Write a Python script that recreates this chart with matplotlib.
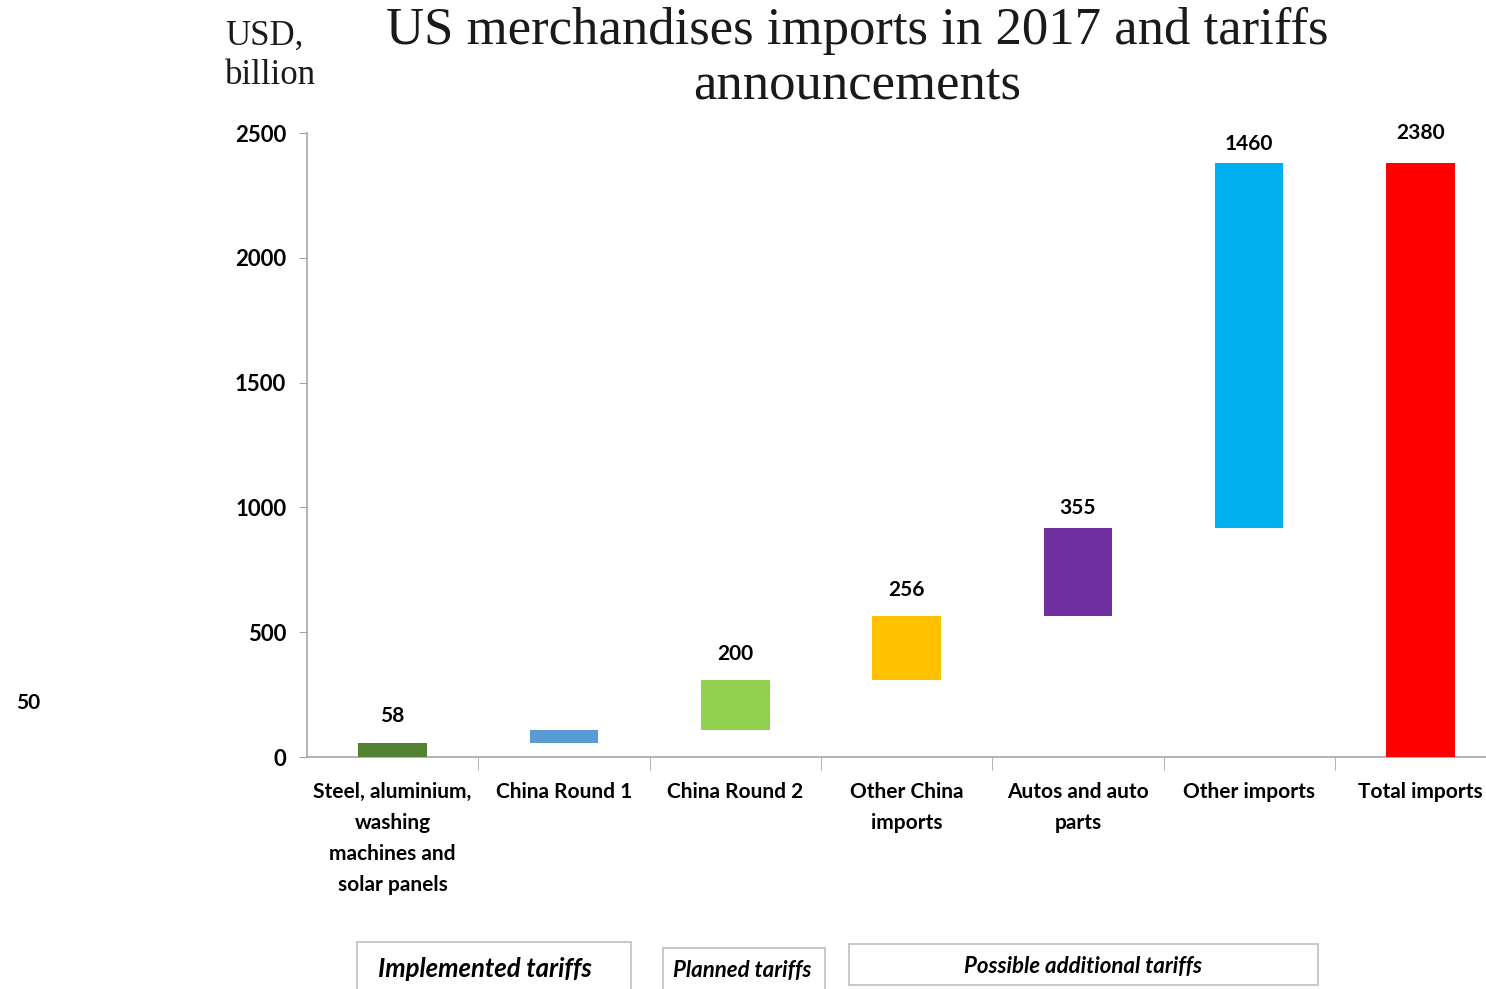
import matplotlib.pyplot as plt
from matplotlib.patches import Rectangle
import numpy as np

# data
categories = ["Steel, aluminium,\nwashing\nmachines and\nsolar panels", "China Round 1",
              "China Round 2", "Other China\nimports", "Autos and auto\nparts",
              "Other imports", "Total imports"]
steps = [58, 50, 200, 256, 355, 1460]
total = 2380
colors = ["#548235", "#5B9BD5", "#92D050", "#FFC000", "#7030A0", "#00B0F0", "#FF0000"]
yticks = [0, 500, 1000, 1500, 2000, 2500]
groups = ["Implemented tariffs", "Planned tariffs", "Possible additional tariffs"]

sans = "Lato"
serif = "Liberation Serif"

bottoms = list(np.concatenate([[0], np.cumsum(steps)[:-1]])) + [0]
heights = steps + [total]

fig = plt.figure(figsize=(14.86, 9.89), dpi=100)
W, H = 1486, 989
ax = fig.add_axes([307 / W, 1 - 757 / H, (1486 - 307) / W, (757 - 133) / H])

x = np.arange(len(categories))
ax.bar(x, heights, bottom=bottoms, width=0.40, color=colors, zorder=3)

ax.set_ylim(0, 2500)
ax.set_xlim(-0.5, -0.5 + (1486 - 307) / 171.3)
ax.set_yticks(yticks)
ax.set_yticklabels([str(v) for v in yticks], fontfamily=sans, fontweight="bold", fontsize=16)

ax.set_xticks(x)
ax.set_xticklabels(categories, fontfamily=sans, fontweight="bold", fontsize=15,
                   linespacing=1.68, va="top")
ax.tick_params(axis="x", length=0, pad=18)
ax.set_xticks(np.arange(len(categories) - 1) + 0.5, minor=True)
ax.tick_params(axis="x", which="minor", length=9, color="#A6A6A6", direction="out")
ax.tick_params(axis="y", length=6, color="#A6A6A6", direction="out", pad=9)

for s in ["top", "right"]:
    ax.spines[s].set_visible(False)
for s in ["left", "bottom"]:
    ax.spines[s].set_color("#A6A6A6")
    ax.spines[s].set_linewidth(1.2)

# data labels (China Round 1 label sits stray at the far left, as in the source)
label_gap = [27, 0, 26, 26, 20, 19, 30]  # pixels above bar top
for i, (b, h) in enumerate(zip(bottoms, heights)):
    if i == 1:
        continue
    ax.annotate(str(h), (x[i], b + h), xytext=(0, label_gap[i] * 0.72),
                textcoords="offset points", ha="center", va="center",
                fontfamily=sans, fontweight="bold", fontsize=15)
fig.text(28 / W, 1 - 703 / H, str(steps[1]), ha="center", va="center",
         fontfamily=sans, fontweight="bold", fontsize=15)

# titles
fig.text(857 / W, 1 - 58 / H, "US merchandises imports in 2017 and tariffs\nannouncements",
         ha="center", va="center", fontfamily=serif, fontsize=38, linespacing=1.17,
         color="#1a1a1a")
fig.text(225 / W, 1 - 56 / H, "USD,\nbillion", ha="left", va="center",
         fontfamily=serif, fontsize=25, linespacing=1.25, color="#1a1a1a")

# group boxes
boxes = [(357, 942, 631, 1000), (663, 948, 825, 1000), (849, 944, 1318, 985)]
text_pos = [(485, 969, 18.5), (742, 970, 16), (1083, 966, 16)]
for (x0, y0, x1, y1), (tx, ty, fs), g in zip(boxes, text_pos, groups):
    fig.add_artist(Rectangle((x0 / W, 1 - y1 / H), (x1 - x0) / W, (y1 - y0) / H,
                             transform=fig.transFigure, fill=False,
                             edgecolor="#BFBFBF", linewidth=1.2))
    fig.text(tx / W, 1 - ty / H, g, ha="center", va="center",
             fontfamily=sans, fontweight="bold", style="italic", fontsize=fs)

fig.savefig("out.png", dpi=100)
